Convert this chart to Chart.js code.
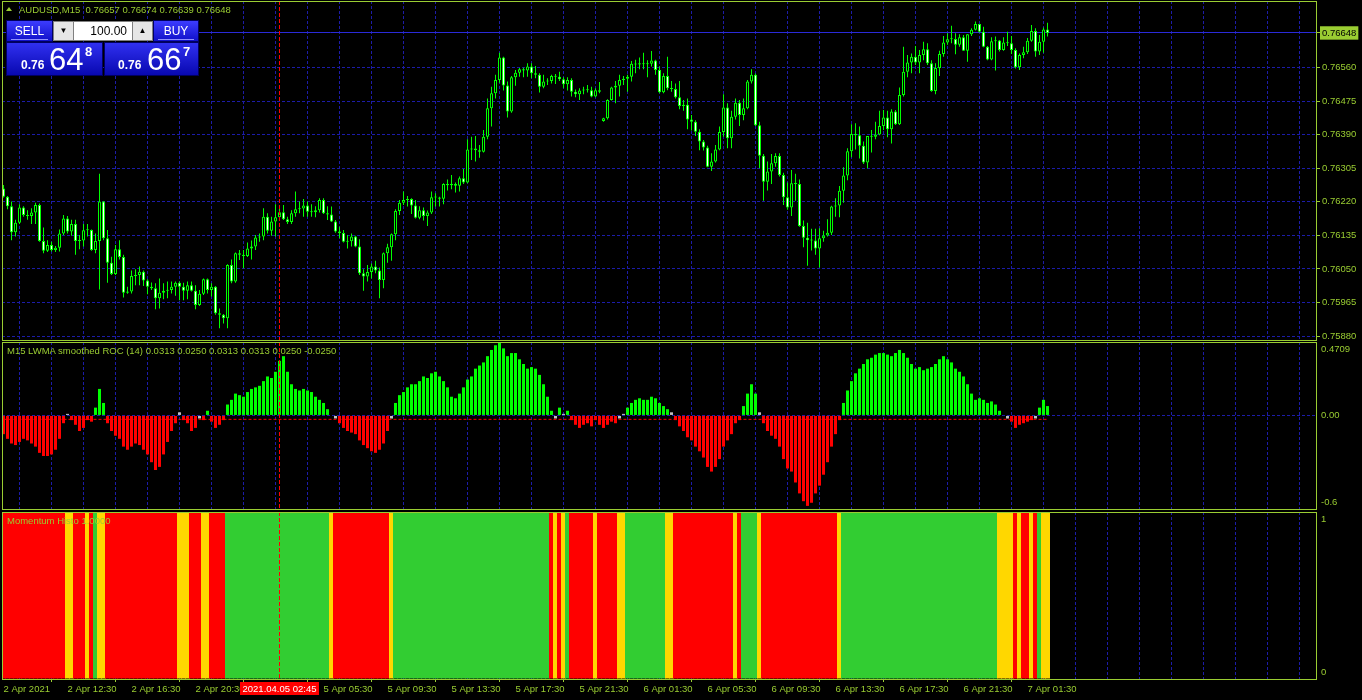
<!DOCTYPE html>
<html><head><meta charset="utf-8">
<script src="https://cdn.jsdelivr.net/npm/chart.js@4.4.1/dist/chart.umd.min.js"></script>
<style>
html,body{margin:0;padding:0;background:#000;width:1362px;height:700px;overflow:hidden;font-family:"Liberation Sans",Arial,sans-serif;}
canvas{position:absolute;left:0;}
#c1{top:0}#c2{top:341px}#c3{top:511px}
.t{position:absolute;color:#9ACD32;font-size:9.5px;white-space:pre;line-height:12px;}
.tri{position:absolute;left:6px;top:7px;width:0;height:0;border-left:3px solid transparent;border-right:3px solid transparent;border-bottom:4px solid #9ACD32;}
.btn{position:absolute;background:linear-gradient(#3c3cff,#1010c8);color:#fff;font-size:12px;text-align:center;line-height:20px;border:1px solid #000060;box-sizing:border-box;}
.btn .ul{position:absolute;left:4px;right:4px;bottom:1px;height:1px;background:#9090ff;}
.pbox{position:absolute;background:linear-gradient(#3030f0,#0808b0);border:1px solid #000060;box-sizing:border-box;color:#fff;}
.pbox span{position:absolute;line-height:1;white-space:pre;}
.spin{position:absolute;top:21px;height:20px;background:#e6e6e6;border:1px solid #808080;box-sizing:border-box;font-size:8px;text-align:center;line-height:18px;color:#000;}
.field{position:absolute;left:74px;top:21px;width:58px;height:20px;background:#fff;box-sizing:border-box;border-top:1px solid #808080;border-bottom:1px solid #808080;font-size:12px;text-align:right;line-height:19px;padding-right:5px;color:#000;}
</style></head><body>
<canvas id="c1" width="1362" height="341"></canvas>
<canvas id="c2" width="1362" height="170"></canvas>
<canvas id="c3" width="1362" height="189"></canvas>

<div class="tri"></div>
<div class="t" style="left:19px;top:4px;">AUDUSD,M15  0.76657 0.76674 0.76639 0.76648</div>
<div class="btn" style="left:6px;top:20px;width:47px;height:22px;">SELL<div class="ul"></div></div>
<div class="spin" style="left:53px;width:21px;">&#9660;</div>
<div class="field">100.00</div>
<div class="spin" style="left:132px;width:21px;">&#9650;</div>
<div class="btn" style="left:153px;top:20px;width:46px;height:22px;">BUY<div class="ul"></div></div>
<div class="pbox" style="left:6px;top:42px;width:97px;height:34px;">
  <span style="left:14px;top:16px;font-size:12px;font-weight:bold;">0.76</span>
  <span style="left:42px;top:1px;font-size:31px;">64</span>
  <span style="left:78px;top:2px;font-size:13px;font-weight:bold;">8</span>
</div>
<div class="pbox" style="left:104px;top:42px;width:95px;height:34px;">
  <span style="left:13px;top:16px;font-size:12px;font-weight:bold;">0.76</span>
  <span style="left:42px;top:1px;font-size:31px;">66</span>
  <span style="left:78px;top:2px;font-size:13px;font-weight:bold;">7</span>
</div>
<div class="t" style="left:7px;top:345px;">M15 LWMA smoothed ROC (14) 0.0313 0.0250 0.0313 0.0313 0.0250 -0.0250</div>
<div class="t" style="left:7px;top:515px;">Momentum Histo 1.0000</div>

<script>
// ---------------- DATA ----------------
const openP = [
0.76254,0.76233,0.76209,0.76143,0.76167,0.76206,0.76187,0.76184,0.76193,0.76212,
0.76121,0.76096,0.76111,0.76098,0.76104,0.76140,0.76178,0.76145,0.76164,0.76121,
0.76122,0.76148,0.76149,0.76098,0.76121,0.76221,0.76128,0.76066,0.76037,0.76100,
0.76080,0.75990,0.75993,0.76032,0.76035,0.76043,0.76021,0.76005,0.76001,0.75976,
0.75990,0.75995,0.75997,0.76005,0.76015,0.76005,0.75995,0.76009,0.75995,0.75959,
0.75987,0.76024,0.75997,0.76005,0.75938,0.75934,0.75925,0.76060,0.76018,0.76090,
0.76086,0.76083,0.76102,0.76107,0.76130,0.76132,0.76182,0.76147,0.76170,0.76181,
0.76194,0.76176,0.76169,0.76191,0.76201,0.76203,0.76211,0.76195,0.76194,0.76199,
0.76225,0.76191,0.76188,0.76170,0.76145,0.76141,0.76119,0.76120,0.76132,0.76107,
0.76039,0.76031,0.76042,0.76056,0.76046,0.76022,0.76090,0.76105,0.76138,0.76197,
0.76218,0.76225,0.76227,0.76211,0.76180,0.76199,0.76184,0.76193,0.76232,0.76231,
0.76228,0.76265,0.76262,0.76265,0.76261,0.76280,0.76269,0.76353,0.76355,0.76351,
0.76347,0.76385,0.76457,0.76495,0.76529,0.76586,0.76515,0.76449,0.76536,0.76547,
0.76556,0.76553,0.76563,0.76546,0.76542,0.76512,0.76525,0.76526,0.76539,0.76537,
0.76531,0.76518,0.76529,0.76499,0.76493,0.76502,0.76505,0.76503,0.76487,0.76503,
0.76425,0.76432,0.76478,0.76510,0.76514,0.76529,0.76532,0.76537,0.76570,0.76568,
0.76571,0.76569,0.76570,0.76578,0.76554,0.76498,0.76539,0.76508,0.76506,0.76485,
0.76463,0.76466,0.76429,0.76423,0.76398,0.76373,0.76358,0.76309,0.76322,0.76353,
0.76397,0.76459,0.76381,0.76436,0.76471,0.76440,0.76457,0.76525,0.76542,0.76414,
0.76337,0.76271,0.76297,0.76318,0.76336,0.76288,0.76232,0.76206,0.76267,0.76265,
0.76159,0.76129,0.76123,0.76122,0.76102,0.76128,0.76135,0.76142,0.76208,0.76211,
0.76248,0.76287,0.76348,0.76392,0.76389,0.76362,0.76320,0.76387,0.76385,0.76391,
0.76412,0.76434,0.76404,0.76449,0.76417,0.76491,0.76550,0.76573,0.76588,0.76573,
0.76592,0.76607,0.76571,0.76501,0.76559,0.76595,0.76624,0.76632,0.76633,0.76618,
0.76637,0.76603,0.76645,0.76656,0.76671,0.76651,0.76613,0.76581,0.76627,0.76629,
0.76605,0.76624,0.76622,0.76605,0.76561,0.76592,0.76599,0.76628,0.76653,0.76601,
0.76626,0.76657];
const highP = [
0.76263,0.76235,0.76221,0.76175,0.76214,0.76209,0.76199,0.76204,0.76218,0.76216,
0.76155,0.76123,0.76119,0.76108,0.76150,0.76187,0.76184,0.76175,0.76175,0.76136,
0.76164,0.76164,0.76150,0.76140,0.76291,0.76222,0.76149,0.76081,0.76111,0.76123,
0.76086,0.76005,0.76046,0.76049,0.76056,0.76046,0.76024,0.76016,0.76014,0.76026,
0.76014,0.76018,0.76018,0.76018,0.76018,0.76015,0.76018,0.76018,0.76009,0.75997,
0.76026,0.76026,0.76014,0.76007,0.75950,0.75936,0.76062,0.76074,0.76092,0.76098,
0.76098,0.76117,0.76122,0.76136,0.76140,0.76204,0.76191,0.76182,0.76214,0.76212,
0.76212,0.76182,0.76199,0.76246,0.76221,0.76227,0.76221,0.76214,0.76209,0.76229,
0.76229,0.76209,0.76208,0.76174,0.76157,0.76149,0.76136,0.76140,0.76134,0.76125,
0.76049,0.76060,0.76064,0.76071,0.76054,0.76092,0.76114,0.76140,0.76201,0.76225,
0.76246,0.76235,0.76229,0.76225,0.76209,0.76206,0.76198,0.76246,0.76242,0.76233,
0.76267,0.76277,0.76288,0.76269,0.76284,0.76303,0.76379,0.76385,0.76387,0.76364,
0.76402,0.76482,0.76512,0.76542,0.76598,0.76588,0.76525,0.76539,0.76554,0.76559,
0.76560,0.76571,0.76571,0.76564,0.76546,0.76542,0.76533,0.76542,0.76544,0.76550,
0.76536,0.76536,0.76533,0.76505,0.76508,0.76512,0.76516,0.76512,0.76508,0.76524,
0.76433,0.76480,0.76512,0.76526,0.76542,0.76539,0.76542,0.76577,0.76580,0.76586,
0.76598,0.76579,0.76602,0.76580,0.76563,0.76546,0.76588,0.76526,0.76520,0.76526,
0.76478,0.76482,0.76440,0.76427,0.76404,0.76377,0.76362,0.76343,0.76364,0.76411,
0.76493,0.76470,0.76451,0.76482,0.76478,0.76482,0.76529,0.76556,0.76545,0.76423,
0.76341,0.76322,0.76341,0.76343,0.76343,0.76294,0.76269,0.76301,0.76291,0.76277,
0.76173,0.76167,0.76152,0.76152,0.76153,0.76147,0.76176,0.76210,0.76229,0.76260,
0.76308,0.76356,0.76417,0.76419,0.76411,0.76373,0.76387,0.76402,0.76423,0.76451,
0.76453,0.76451,0.76455,0.76453,0.76510,0.76613,0.76592,0.76596,0.76615,0.76605,
0.76626,0.76622,0.76579,0.76571,0.76603,0.76640,0.76647,0.76666,0.76647,0.76645,
0.76643,0.76645,0.76660,0.76677,0.76671,0.76664,0.76615,0.76637,0.76639,0.76630,
0.76637,0.76651,0.76640,0.76609,0.76596,0.76613,0.76635,0.76668,0.76660,0.76643,
0.76662,0.76674];
const lowP = [
0.76231,0.76201,0.76123,0.76132,0.76164,0.76182,0.76175,0.76164,0.76164,0.76119,
0.76090,0.76093,0.76094,0.76093,0.76094,0.76136,0.76140,0.76134,0.76086,0.76100,
0.76107,0.76132,0.76096,0.76090,0.75998,0.76123,0.76015,0.76035,0.76035,0.76074,
0.75978,0.75987,0.75988,0.76009,0.76009,0.76007,0.75986,0.75997,0.75948,0.75950,
0.75973,0.75976,0.75988,0.75982,0.75971,0.75971,0.75973,0.75993,0.75948,0.75956,
0.75984,0.75988,0.75980,0.75934,0.75900,0.75912,0.75900,0.76014,0.76015,0.76073,
0.76052,0.76080,0.76074,0.76098,0.76119,0.76123,0.76140,0.76134,0.76132,0.76178,
0.76174,0.76164,0.76164,0.76182,0.76191,0.76182,0.76182,0.76182,0.76181,0.76193,
0.76189,0.76174,0.76169,0.76142,0.76128,0.76117,0.76102,0.76107,0.76105,0.76035,
0.75995,0.76018,0.76026,0.76039,0.75976,0.76001,0.76066,0.76071,0.76123,0.76187,
0.76212,0.76208,0.76189,0.76178,0.76176,0.76173,0.76159,0.76189,0.76208,0.76208,
0.76214,0.76249,0.76252,0.76244,0.76246,0.76265,0.76267,0.76326,0.76322,0.76332,
0.76345,0.76379,0.76411,0.76482,0.76522,0.76502,0.76434,0.76446,0.76514,0.76537,
0.76536,0.76537,0.76533,0.76533,0.76497,0.76508,0.76516,0.76520,0.76519,0.76526,
0.76508,0.76502,0.76487,0.76485,0.76478,0.76493,0.76497,0.76485,0.76485,0.76495,
0.76423,0.76429,0.76477,0.76470,0.76487,0.76516,0.76499,0.76525,0.76546,0.76556,
0.76556,0.76536,0.76563,0.76542,0.76495,0.76495,0.76503,0.76499,0.76482,0.76455,
0.76451,0.76404,0.76401,0.76387,0.76351,0.76350,0.76308,0.76298,0.76320,0.76351,
0.76385,0.76356,0.76356,0.76429,0.76412,0.76427,0.76455,0.76520,0.76412,0.76305,
0.76223,0.76249,0.76265,0.76309,0.76284,0.76212,0.76200,0.76184,0.76223,0.76157,
0.76105,0.76058,0.76097,0.76086,0.76054,0.76119,0.76132,0.76136,0.76182,0.76181,
0.76218,0.76275,0.76333,0.76353,0.76330,0.76316,0.76305,0.76345,0.76379,0.76389,
0.76402,0.76384,0.76368,0.76415,0.76415,0.76487,0.76536,0.76546,0.76567,0.76546,
0.76579,0.76567,0.76499,0.76493,0.76539,0.76588,0.76618,0.76622,0.76594,0.76613,
0.76603,0.76575,0.76640,0.76654,0.76649,0.76612,0.76579,0.76579,0.76553,0.76601,
0.76603,0.76615,0.76595,0.76558,0.76554,0.76584,0.76595,0.76626,0.76588,0.76592,
0.76598,0.76639];
const closeP = [
0.76233,0.76209,0.76143,0.76167,0.76206,0.76187,0.76184,0.76193,0.76212,0.76121,
0.76096,0.76111,0.76098,0.76104,0.76140,0.76178,0.76145,0.76164,0.76121,0.76122,
0.76148,0.76149,0.76098,0.76121,0.76221,0.76128,0.76066,0.76037,0.76100,0.76080,
0.75990,0.75993,0.76032,0.76035,0.76043,0.76021,0.76005,0.76001,0.75976,0.75990,
0.75995,0.75997,0.76005,0.76015,0.76005,0.75995,0.76009,0.75995,0.75959,0.75987,
0.76024,0.75997,0.76005,0.75938,0.75934,0.75925,0.76060,0.76018,0.76090,0.76086,
0.76083,0.76102,0.76107,0.76130,0.76132,0.76182,0.76147,0.76170,0.76181,0.76194,
0.76176,0.76169,0.76191,0.76201,0.76203,0.76211,0.76195,0.76194,0.76199,0.76225,
0.76191,0.76188,0.76170,0.76145,0.76141,0.76119,0.76120,0.76132,0.76107,0.76039,
0.76031,0.76042,0.76056,0.76046,0.76022,0.76090,0.76105,0.76138,0.76197,0.76218,
0.76225,0.76227,0.76211,0.76180,0.76199,0.76184,0.76193,0.76232,0.76231,0.76228,
0.76265,0.76262,0.76265,0.76261,0.76280,0.76269,0.76353,0.76355,0.76351,0.76347,
0.76385,0.76457,0.76495,0.76529,0.76586,0.76515,0.76449,0.76536,0.76547,0.76556,
0.76553,0.76563,0.76546,0.76542,0.76512,0.76525,0.76526,0.76539,0.76537,0.76531,
0.76518,0.76529,0.76499,0.76493,0.76502,0.76505,0.76503,0.76487,0.76503,0.76499,
0.76432,0.76478,0.76510,0.76514,0.76529,0.76532,0.76537,0.76570,0.76568,0.76571,
0.76569,0.76570,0.76578,0.76554,0.76498,0.76539,0.76508,0.76506,0.76485,0.76463,
0.76466,0.76429,0.76423,0.76398,0.76373,0.76358,0.76309,0.76322,0.76353,0.76397,
0.76459,0.76381,0.76436,0.76471,0.76440,0.76457,0.76525,0.76542,0.76414,0.76337,
0.76271,0.76297,0.76318,0.76336,0.76288,0.76232,0.76206,0.76267,0.76265,0.76159,
0.76129,0.76123,0.76122,0.76102,0.76128,0.76135,0.76142,0.76208,0.76211,0.76248,
0.76287,0.76348,0.76392,0.76389,0.76362,0.76320,0.76387,0.76385,0.76391,0.76412,
0.76434,0.76404,0.76449,0.76417,0.76491,0.76550,0.76573,0.76588,0.76573,0.76592,
0.76607,0.76571,0.76501,0.76559,0.76595,0.76624,0.76632,0.76633,0.76618,0.76637,
0.76603,0.76645,0.76656,0.76671,0.76651,0.76613,0.76581,0.76627,0.76629,0.76605,
0.76624,0.76622,0.76605,0.76561,0.76592,0.76599,0.76628,0.76653,0.76601,0.76626,
0.76657,0.76648];

const rocValues = [
-0.12,-0.15,-0.18,-0.19,-0.17,-0.15,-0.16,-0.18,-0.2,-0.24,-0.26,-0.26,-0.25,-0.22,-0.15,-0.05,
0.01,-0.03,-0.06,-0.1,-0.08,-0.03,-0.04,0.05,0.17,0.08,
-0.05,-0.1,-0.13,-0.15,-0.2,-0.22,-0.2,-0.18,-0.19,-0.22,-0.25,-0.3,-0.35,-0.33,-0.25,-0.17,-0.1,-0.05,
0.02,-0.03,-0.05,-0.1,-0.08,-0.02,-0.03,0.03,-0.04,-0.08,-0.06,-0.03,
0.07,0.1,0.14,0.13,0.12,0.15,0.17,0.18,0.19,0.22,0.25,0.24,0.28,0.35,0.38,0.28,0.2,0.17,0.16,0.17,0.16,0.15,0.12,0.1,0.08,0.04,
0.0,-0.02,-0.05,-0.08,-0.1,-0.11,-0.12,-0.16,-0.19,-0.21,-0.23,-0.24,-0.22,-0.18,-0.1,-0.02,
0.08,0.13,0.15,0.18,0.2,0.2,0.22,0.25,0.24,0.27,0.28,0.25,0.22,0.18,0.12,0.11,0.14,0.18,0.23,0.25,0.3,0.32,0.34,0.38,0.42,0.45,0.47,0.43,0.38,0.4,0.4,0.36,0.33,0.3,0.31,0.3,0.26,0.2,0.12,
0.03,-0.02,0.05,0.01,0.03,-0.03,-0.06,-0.08,-0.06,-0.05,-0.07,-0.03,-0.06,-0.08,-0.06,-0.04,-0.05,-0.02,0.01,
0.05,0.08,0.1,0.11,0.1,0.1,0.12,0.11,0.08,0.06,0.04,0.02,
-0.03,-0.07,-0.1,-0.14,-0.16,-0.2,-0.23,-0.27,-0.33,-0.36,-0.33,-0.28,-0.2,-0.16,-0.12,-0.05,-0.03,
0.06,0.14,0.2,0.14,0.02,
-0.05,-0.1,-0.13,-0.15,-0.2,-0.28,-0.34,-0.36,-0.43,-0.5,-0.55,-0.58,-0.56,-0.5,-0.45,-0.38,-0.3,-0.2,-0.12,-0.03,
0.08,0.16,0.22,0.27,0.3,0.33,0.36,0.37,0.39,0.4,0.4,0.39,0.38,0.4,0.42,0.4,0.37,0.33,0.3,0.31,0.29,0.3,0.31,0.33,0.36,0.38,0.36,0.34,0.3,0.28,0.25,0.2,0.14,0.1,0.11,0.1,0.08,0.09,0.07,
0.03,0.0,-0.02,-0.04,-0.08,-0.06,-0.05,-0.04,-0.03,-0.02,0.05,0.1,0.06];

// R = red, Y = gold, G = green
const momentumState = (
 "RRRRRRRRRR"+"RRRRRR"+
 "YYRRRYRGYY"+
 "RRRRRRRRRR"+"RRRRRRRR"+
 "YYYRRRYYRRRR"+
 "GGGGGGGGGG"+"GGGGGGGGGG"+"GGGGGG"+
 "Y"+"RRRRRRRRRR"+"RRRR"+"Y"+
 "GGGGGGGGGG"+"GGGGGGGGGG"+"GGGGGGGGGG"+"GGGGGGGGG"+
 "RYRYG"+
 "RRRRRR"+"Y"+"RRRRR"+"YY"+
 "GGGGGGGGGG"+"YY"+
 "RRRRRRRRRR"+"RRRRR"+"Y"+"R"+
 "GGGG"+"Y"+
 "RRRRRRRRRR"+"RRRRRRRRR"+"Y"+
 "GGGGGGGGGG"+"GGGGGGGGGG"+"GGGGGGGGGG"+"GGGGGGGGG"+
 "YYYY"+"R"+"Y"+"RR"+"Y"+"R"+"G"+"YY").split('');

const priceTicks = [0.75880,0.75965,0.76050,0.76135,0.76220,0.76305,0.76390,0.76475,0.76560];
const bidPrice = 0.76648;
const rocTickValues = [0.4709, 0, -0.6];
const rocTickLabels = ['0.4709', '0.00', '-0.6'];
const rocLevel = -0.025;
const momTickValues = [1, 0];
const momTickLabels = ['1', '0'];
const rocRange = [-0.6, 0.4709];
const priceRange = [0.75870, 0.76729];
const timeTickIndex = [0,16,32,48,64,80,96,112,128,144,160,176,192,208,224,240,256];
const timeTickLabels = ['2 Apr 2021','2 Apr 12:30','2 Apr 16:30','2 Apr 20:30','5 Apr 01:30','5 Apr 05:30',
 '5 Apr 09:30','5 Apr 13:30','5 Apr 17:30','5 Apr 21:30','6 Apr 01:30','6 Apr 05:30','6 Apr 09:30',
 '6 Apr 13:30','6 Apr 17:30','6 Apr 21:30','7 Apr 01:30'];
const crossIndex = 69;
const crossLabel = '2021.04.05 02:45';

// ---------------- STYLE ----------------
const FG = '#9ACD32', GRID = '#1c1ca8', BID = '#2a2ad8', LIME = '#00FF00';
const FONT = {family:"'Liberation Sans', Arial, sans-serif", size:9.5};
const X_MIN = -0.375, X_MAX = 328.125;
const gridTicks = []; for (let v = 8; v <= 328; v += 8) gridTicks.push(v);
const labelAt = new Map(timeTickIndex.map((v, k) => [v, timeTickLabels[k]]));
const idx = closeP.map((_, i) => i);
const momColor = {R:'#FF0000', Y:'#FFD700', G:'#32CD32'};

function zeroPad(s){ s.paddingTop = 0; s.paddingBottom = 0; s.paddingLeft = 0; s.paddingRight = 0; }

function xScale(showLabels){
  return {
    type:'linear', min:X_MIN, max:X_MAX, offset:false, bounds:'data',
    afterBuildTicks: s => { s.ticks = (showLabels ? [0] : []).concat(gridTicks).map(v => ({value:v})); },
    afterFit: s => { s.height = showLabels ? 20 : 0; zeroPad(s); },
    grid:{ display:true, drawOnChartArea:true, drawTicks:showLabels, tickLength:3, lineWidth:1,
      color: c => (c.tick && c.tick.value === 0) ? 'rgba(0,0,0,0)' : GRID,
      tickColor: c => (c.tick && labelAt.has(c.tick.value)) ? FG : 'rgba(0,0,0,0)' },
    border:{ display:false, dash:[3,2] },
    ticks:{ display:showLabels, autoSkip:false, maxRotation:0, minRotation:0, align:'start', padding:2,
      color:FG, font:FONT, callback: v => labelAt.has(v) ? labelAt.get(v) : '' }
  };
}

const frame = { id:'frame', afterDraw(ch){ const a = ch.chartArea, c = ch.ctx; c.save(); c.strokeStyle = FG; c.lineWidth = 1;
  c.strokeRect(a.left + 0.5, a.top + 0.5, a.right - a.left, a.bottom - a.top); c.restore(); } };

// vertical crosshair at the selected bar, pixel-aligned from the x scale
const crossLine = { id:'crossLine', afterDatasetsDraw(ch){ const a = ch.chartArea, c = ch.ctx;
  const x = Math.floor(ch.scales.x.getPixelForValue(crossIndex)) + 0.5;
  c.save(); c.strokeStyle = '#FF0000'; c.lineWidth = 1; c.setLineDash([4,2]);
  c.beginPath(); c.moveTo(x, a.top); c.lineTo(x, a.bottom); c.stroke(); c.restore(); } };

const sideLabels = { id:'sideLabels', afterDraw(ch, args, opts){ if (!opts.values) return;
  const s = ch.scales.y, a = ch.chartArea, c = ch.ctx; c.save();
  c.font = "9.5px 'Liberation Sans', Arial, sans-serif"; c.fillStyle = FG; c.textBaseline = 'middle'; c.textAlign = 'left';
  opts.values.forEach((v, k) => { let y = s.getPixelForValue(v); y = Math.min(Math.max(y, a.top + 7), a.bottom - 6.5);
    c.fillText(opts.labels[k], a.right + 5, y); });
  c.restore(); } };

const crossBox = { id:'crossBox', afterDraw(ch, args, opts){ if (!opts.show) return;
  const c = ch.ctx, x = Math.floor(ch.scales.x.getPixelForValue(crossIndex)), a = ch.chartArea; c.save();
  c.fillStyle = '#FF0000'; c.fillRect(x - 39, a.bottom + 3, 79, 13);
  c.font = "9.5px 'Liberation Sans', Arial, sans-serif"; c.fillStyle = '#FFFFFF'; c.textAlign = 'center'; c.textBaseline = 'middle';
  c.fillText(crossLabel, x + 0.5, a.bottom + 10); c.restore(); } };

function baseOptions(padding, yScale, pluginOpts, showLabels){
  return {
    responsive:false, animation:false, events:[], devicePixelRatio:1,
    layout:{ autoPadding:false, padding },
    plugins:Object.assign({ legend:{display:false}, tooltip:{enabled:false} }, pluginOpts),
    scales:{ x:xScale(showLabels), y:yScale }
  };
}

const isBid = c => c.tick && Math.abs(c.tick.value - bidPrice) < 1e-9;

// ---------------- PRICE PANEL ----------------
new Chart(document.getElementById('c1'), {
  type:'bar',
  data:{ datasets:[
    { data: idx.map(i => ({x:i, y:[openP[i], closeP[i]]})),
      backgroundColor: idx.map(i => closeP[i] < openP[i] ? '#FFFFFF' : '#000000'),
      borderColor:LIME, borderWidth:1, borderSkipped:false, barThickness:3, minBarLength:1,
      grouped:false, inflateAmount:0, order:0 },
    { data: idx.map(i => ({x:i, y:[Math.min(lowP[i], openP[i], closeP[i]), Math.max(highP[i], openP[i], closeP[i])]})),
      backgroundColor:LIME, borderWidth:0, barThickness:1, grouped:false, inflateAmount:0, order:1 }
  ]},
  options: baseOptions({left:2, top:1, right:0, bottom:1}, {
    type:'linear', position:'right', min:priceRange[0], max:priceRange[1], bounds:'data',
    afterBuildTicks: s => { s.ticks = priceTicks.concat([bidPrice]).sort((a,b) => a - b).map(v => ({value:v})); },
    afterFit: s => { s.width = 46; zeroPad(s); },
    grid:{ color: c => isBid(c) ? BID : GRID, drawTicks:true, tickLength:4, tickColor:FG, lineWidth:1 },
    border:{ display:false, dash: c => isBid(c) ? [] : [3,2] },
    ticks:{ autoSkip:false, font:FONT, padding:2, crossAlign:'near',
      color: c => isBid(c) ? '#000000' : FG,
      showLabelBackdrop: c => isBid(c), backdropColor:FG, backdropPadding:{top:1,bottom:1,left:2,right:2},
      callback: v => Number(v).toFixed(5) }
  }, {}, false),
  plugins:[frame, crossLine]
});

// ---------------- ROC PANEL ----------------
new Chart(document.getElementById('c2'), {
  type:'bar',
  data:{ datasets:[
    { type:'line', data:[{x:0, y:rocLevel}, {x:idx.length - 1, y:rocLevel}], borderColor:'#FF0000', borderWidth:1,
      borderDash:[3,2], pointRadius:0, order:0 },
    { data: idx.map(i => ({x:i, y:rocValues[i]})),
      backgroundColor: rocValues.map(v => v >= 0.03 ? LIME : (v <= -0.03 ? '#FF0000' : '#C0C0C0')),
      borderWidth:0, barThickness:3, grouped:false, inflateAmount:0, order:1 }
  ]},
  options: baseOptions({left:2, top:1, right:0, bottom:2}, {
    type:'linear', position:'right', min:rocRange[0], max:rocRange[1], bounds:'data',
    afterBuildTicks: s => { s.ticks = [{value:0}]; },
    afterFit: s => { s.width = 46; zeroPad(s); },
    grid:{ color:GRID, drawTicks:false, lineWidth:1 },
    border:{ display:false, dash:[3,2] },
    ticks:{ display:false }
  }, { sideLabels:{ values:rocTickValues, labels:rocTickLabels } }, false),
  plugins:[frame, sideLabels, crossLine]
});

// ---------------- MOMENTUM PANEL ----------------
new Chart(document.getElementById('c3'), {
  type:'bar',
  data:{ datasets:[
    { data: idx.map(i => ({x:i, y:[0, 1]})),
      backgroundColor: momentumState.map(s => momColor[s]),
      borderWidth:0, barThickness:5, grouped:false, inflateAmount:0, order:1 }
  ]},
  options: baseOptions({left:2, top:1, right:0, bottom:1}, {
    type:'linear', position:'right', min:0, max:1, bounds:'data',
    afterBuildTicks: s => { s.ticks = [{value:0}]; },
    afterFit: s => { s.width = 46; zeroPad(s); },
    grid:{ color:GRID, drawTicks:false, lineWidth:1 },
    border:{ display:false, dash:[3,2] },
    ticks:{ display:false }
  }, { sideLabels:{ values:momTickValues, labels:momTickLabels }, crossBox:{ show:true } }, true),
  plugins:[frame, sideLabels, crossLine, crossBox]
});
</script>
</body></html>
